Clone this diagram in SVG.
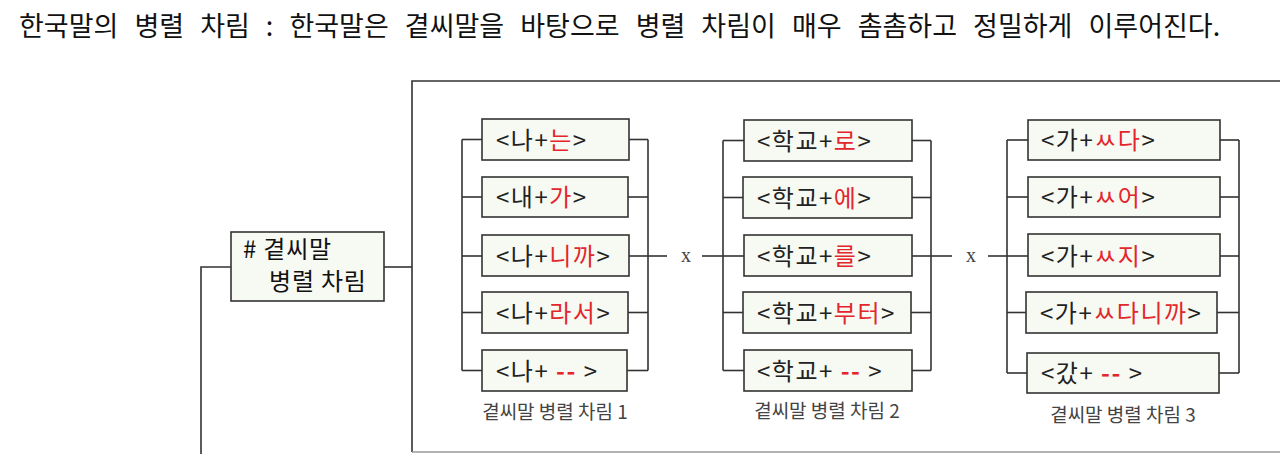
<svg xmlns="http://www.w3.org/2000/svg" width="1280" height="454" viewBox="0 0 1280 454">
<style>
  text { font-family: "Noto Sans CJK KR", "Noto Sans", sans-serif; }
  .title { font-size: 27px; fill: #111; word-spacing: 10px; }
  .box { fill: #f7f9f3; stroke: #333; stroke-width: 1.6; }
  .ln { fill: none; stroke: #333; stroke-width: 1.6; }
  .lbl { font-size: 24px; fill: #222; letter-spacing: 1.5px; }
  .red { fill: #e3262b; }
  .dash { fill: #e3262b; font-weight: bold; }
  .cap { font-size: 19px; fill: #444; text-anchor: middle; }
  .x { font-family: "Liberation Serif", serif; font-size: 20px; fill: #444; text-anchor: middle; }
  .head { font-size: 24px; fill: #111; letter-spacing: 0.8px; }
</style>
<rect width="1280" height="454" fill="#ffffff"/>
<text class="title" x="19" y="36">한국말의 병렬 차림 : 한국말은 곁씨말을 바탕으로 병렬 차림이 매우 촘촘하고 정밀하게 이루어진다.</text>

<g id="frame">
  <polyline class="ln" points="1280,81 412,81 412,452" stroke="#444" stroke-width="2"/>
  <line x1="412" y1="452" x2="1280" y2="452" stroke="#999" stroke-width="1.6"/>
</g>

<g id="connectors">
  <polyline class="ln" points="231,267 201,267 201,454"/>
  <line class="ln" x1="384" y1="267" x2="412" y2="267"/>
  <!-- group 1 bracket -->
  <line class="ln" x1="462" y1="139.5" x2="462" y2="370.5"/>
  <line class="ln" x1="462" y1="139.5" x2="482" y2="139.5"/>
  <line class="ln" x1="462" y1="197" x2="482" y2="197"/>
  <line class="ln" x1="462" y1="256" x2="482" y2="256"/>
  <line class="ln" x1="462" y1="312.5" x2="482" y2="312.5"/>
  <line class="ln" x1="462" y1="370.5" x2="482" y2="370.5"/>
  <line class="ln" x1="648" y1="139.5" x2="648" y2="370.5"/>
  <line class="ln" x1="629" y1="139.5" x2="648" y2="139.5"/>
  <line class="ln" x1="628" y1="197" x2="648" y2="197"/>
  <line class="ln" x1="629" y1="256" x2="648" y2="256"/>
  <line class="ln" x1="628" y1="312.5" x2="648" y2="312.5"/>
  <line class="ln" x1="627" y1="370.5" x2="648" y2="370.5"/>
  <!-- x 1 -->
  <line class="ln" x1="648" y1="256" x2="667" y2="256"/>
  <line class="ln" x1="702" y1="256" x2="723" y2="256"/>
  <!-- group 2 bracket -->
  <line class="ln" x1="723" y1="140.5" x2="723" y2="370.5"/>
  <line class="ln" x1="723" y1="140.5" x2="744" y2="140.5"/>
  <line class="ln" x1="723" y1="197.5" x2="743" y2="197.5"/>
  <line class="ln" x1="723" y1="256" x2="744" y2="256"/>
  <line class="ln" x1="723" y1="312.5" x2="743" y2="312.5"/>
  <line class="ln" x1="723" y1="370.5" x2="744" y2="370.5"/>
  <line class="ln" x1="931" y1="140.5" x2="931" y2="370.5"/>
  <line class="ln" x1="912" y1="140.5" x2="931" y2="140.5"/>
  <line class="ln" x1="912" y1="197.5" x2="931" y2="197.5"/>
  <line class="ln" x1="912" y1="256" x2="931" y2="256"/>
  <line class="ln" x1="911" y1="312.5" x2="931" y2="312.5"/>
  <line class="ln" x1="912" y1="370.5" x2="931" y2="370.5"/>
  <!-- x 2 -->
  <line class="ln" x1="931" y1="256" x2="952" y2="256"/>
  <line class="ln" x1="988" y1="256" x2="1007" y2="256"/>
  <!-- group 3 bracket -->
  <line class="ln" x1="1007" y1="140" x2="1007" y2="373"/>
  <line class="ln" x1="1007" y1="140" x2="1028" y2="140"/>
  <line class="ln" x1="1007" y1="197" x2="1028" y2="197"/>
  <line class="ln" x1="1007" y1="256" x2="1028" y2="256"/>
  <line class="ln" x1="1007" y1="312.5" x2="1026" y2="312.5"/>
  <line class="ln" x1="1007" y1="373" x2="1027" y2="373"/>
  <line class="ln" x1="1239" y1="140" x2="1239" y2="373"/>
  <line class="ln" x1="1220" y1="140" x2="1239" y2="140"/>
  <line class="ln" x1="1220" y1="197" x2="1239" y2="197"/>
  <line class="ln" x1="1220" y1="256" x2="1239" y2="256"/>
  <line class="ln" x1="1217" y1="312.5" x2="1239" y2="312.5"/>
  <line class="ln" x1="1219" y1="373" x2="1239" y2="373"/>
  <text class="x" x="686" y="262">x</text>
  <text class="x" x="971" y="262">x</text>
</g>

<g id="root">
  <rect class="box" x="231" y="232" width="153" height="69"/>
  <text class="head" x="243" y="258"># 곁씨말</text>
  <text class="head" x="269" y="290">병렬 차림</text>
</g>

<g id="g1-1"><rect class="box" x="482" y="119" width="147" height="41"/><text class="lbl" x="496" y="148.5">&lt;나+<tspan class="red">는</tspan>&gt;</text></g>
<g id="g1-2"><rect class="box" x="482" y="177" width="146" height="40"/><text class="lbl" x="496" y="206">&lt;내+<tspan class="red">가</tspan>&gt;</text></g>
<g id="g1-3"><rect class="box" x="482" y="235" width="147" height="41"/><text class="lbl" x="496" y="264.5">&lt;나+<tspan class="red">니까</tspan>&gt;</text></g>
<g id="g1-4"><rect class="box" x="482" y="292" width="146" height="41"/><text class="lbl" x="496" y="321.5">&lt;나+<tspan class="red">라서</tspan>&gt;</text></g>
<g id="g1-5"><rect class="box" x="482" y="350" width="145" height="41"/><text class="lbl" x="496" y="379.5">&lt;나+ <tspan class="dash">--</tspan> &gt;</text></g>
<text id="cap1" class="cap" x="555" y="419">곁씨말 병렬 차림 1</text>

<g id="g2-1"><rect class="box" x="744" y="120" width="168" height="41"/><text class="lbl" x="757" y="149.5">&lt;학교+<tspan class="red">로</tspan>&gt;</text></g>
<g id="g2-2"><rect class="box" x="743" y="177" width="169" height="41"/><text class="lbl" x="757" y="206.5">&lt;학교+<tspan class="red">에</tspan>&gt;</text></g>
<g id="g2-3"><rect class="box" x="744" y="235" width="168" height="41"/><text class="lbl" x="757" y="264.5">&lt;학교+<tspan class="red">를</tspan>&gt;</text></g>
<g id="g2-4"><rect class="box" x="743" y="292" width="168" height="41"/><text class="lbl" x="757" y="321.5">&lt;학교+<tspan class="red">부터</tspan>&gt;</text></g>
<g id="g2-5"><rect class="box" x="744" y="350" width="168" height="41"/><text class="lbl" x="757" y="379.5">&lt;학교+ <tspan class="dash">--</tspan> &gt;</text></g>
<text id="cap2" class="cap" x="827" y="418">곁씨말 병렬 차림 2</text>

<g id="g3-1"><rect class="box" x="1028" y="120" width="192" height="40"/><text class="lbl" x="1041" y="149">&lt;가+<tspan class="red">ㅆ다</tspan>&gt;</text></g>
<g id="g3-2"><rect class="box" x="1028" y="177" width="192" height="40"/><text class="lbl" x="1041" y="206">&lt;가+<tspan class="red">ㅆ어</tspan>&gt;</text></g>
<g id="g3-3"><rect class="box" x="1028" y="234" width="192" height="42"/><text class="lbl" x="1041" y="264.5">&lt;가+<tspan class="red">ㅆ지</tspan>&gt;</text></g>
<g id="g3-4"><rect class="box" x="1026" y="292" width="191" height="41"/><text class="lbl" x="1040" y="321.5">&lt;가+<tspan class="red">ㅆ다니까</tspan>&gt;</text></g>
<g id="g3-5"><rect class="box" x="1027" y="353" width="192" height="40"/><text class="lbl" x="1041" y="382">&lt;갔+ <tspan class="dash">--</tspan> &gt;</text></g>
<text id="cap3" class="cap" x="1123" y="422">곁씨말 병렬 차림 3</text>
</svg>
